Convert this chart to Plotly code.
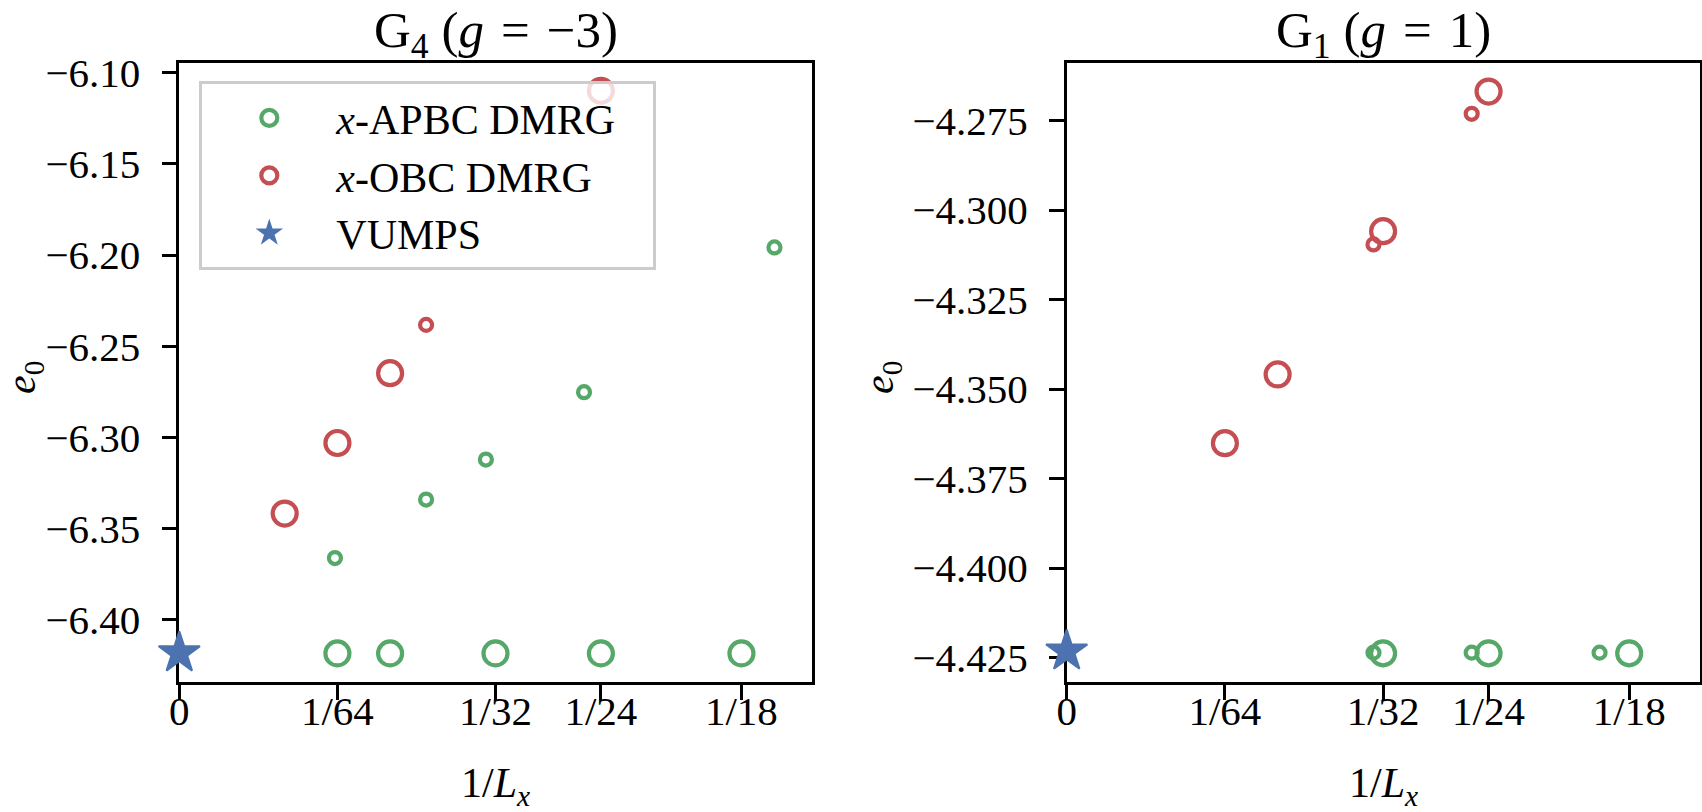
import plotly.graph_objects as go

# ---------------- data ----------------
X_TICKS = [0, 1/64, 1/32, 1/24, 1/18]
X_TICK_LABELS = ["0", "1/64", "1/32", "1/24", "1/18"]

# G4 (g = -3)
G4_APBC_x = [0.015625, 0.020833, 0.03125, 0.041667, 0.055556]
G4_APBC_e = [-6.4185, -6.4185, -6.4185, -6.4185, -6.4185]
G4_APBC_small_x = [0.01538, 0.02439, 0.03030, 0.04000, 0.05882]
G4_APBC_small_e = [-6.3662, -6.3341, -6.3122, -6.2752, -6.1958]
G4_OBC_x = [0.010417, 0.015625, 0.020833, 0.041667]
G4_OBC_e = [-6.3418, -6.3031, -6.2648, -6.1099]
G4_OBC_small_x = [0.02439]
G4_OBC_small_e = [-6.2383]
G4_VUMPS_x = [0.0]
G4_VUMPS_e = [-6.4183]
G4_Y_TICKS = [-6.40, -6.35, -6.30, -6.25, -6.20, -6.15, -6.10]
G4_Y_TICK_LABELS = ["\u22126.40", "\u22126.35", "\u22126.30", "\u22126.25", "\u22126.20", "\u22126.15", "\u22126.10"]

# G1 (g = 1)
G1_APBC_x = [0.03125, 0.041667, 0.055556]
G1_APBC_e = [-4.4238, -4.4238, -4.4238]
G1_APBC_small_x = [0.03030, 0.04000, 0.05263]
G1_APBC_small_e = [-4.4236, -4.4236, -4.4236]
G1_OBC_x = [0.015625, 0.020833, 0.03125, 0.041667]
G1_OBC_e = [-4.3651, -4.3459, -4.3059, -4.2669]
G1_OBC_small_x = [0.03030, 0.04000]
G1_OBC_small_e = [-4.3096, -4.2731]
G1_VUMPS_x = [0.0]
G1_VUMPS_e = [-4.4232]
G1_Y_TICKS = [-4.425, -4.400, -4.375, -4.350, -4.325, -4.300, -4.275]
G1_Y_TICK_LABELS = ["\u22124.425", "\u22124.400", "\u22124.375", "\u22124.350", "\u22124.325", "\u22124.300", "\u22124.275"]

# ---------------- style ----------------
W, H = 1702, 812
GREEN = "#55a868"
RED = "#c44e52"
BLUE = "#4c72b0"
FONT = "Liberation Serif"
FS = 42
BIG, SMALL, RING = 24, 12, 4.2

L_X0, L_X1 = 179.3, 811.7
R_X0, R_X1 = 1066.7, 1699.5
Y_TOP, Y_BOT = 63.3, 682.0

fig = go.Figure()


def ring(x, y, color, size, xa, ya, name, show, group):
    fig.add_trace(go.Scatter(
        x=x, y=y, mode="markers", name=name, showlegend=show, legendgroup=group,
        xaxis=xa, yaxis=ya,
        marker=dict(symbol="circle-open", size=size, color=color, line=dict(width=RING, color=color)),
    ))


def star(x, y, xa, ya, show):
    fig.add_trace(go.Scatter(
        x=x, y=y, mode="markers", name="VUMPS", showlegend=show, legendgroup="vumps",
        xaxis=xa, yaxis=ya, cliponaxis=False,
        marker=dict(symbol="star", size=31, color=BLUE, line=dict(width=2, color=BLUE)),
    ))


APBC_NAME = "<i>x</i>-APBC DMRG\u00a0\u00a0\u00a0"
OBC_NAME = "<i>x</i>-OBC DMRG"

# left panel
ring(G4_APBC_x, G4_APBC_e, GREEN, BIG, "x", "y", APBC_NAME, True, "apbc")
ring(G4_OBC_x, G4_OBC_e, RED, BIG, "x", "y", OBC_NAME, True, "obc")
ring(G4_APBC_small_x, G4_APBC_small_e, GREEN, SMALL, "x", "y", APBC_NAME, False, "apbc")
ring(G4_OBC_small_x, G4_OBC_small_e, RED, SMALL, "x", "y", OBC_NAME, False, "obc")
star(G4_VUMPS_x, G4_VUMPS_e, "x", "y", True)

# right panel
ring(G1_APBC_x, G1_APBC_e, GREEN, BIG, "x2", "y2", APBC_NAME, False, "apbc")
ring(G1_OBC_x, G1_OBC_e, RED, BIG, "x2", "y2", OBC_NAME, False, "obc")
ring(G1_APBC_small_x, G1_APBC_small_e, GREEN, SMALL, "x2", "y2", APBC_NAME, False, "apbc")
ring(G1_OBC_small_x, G1_OBC_small_e, RED, SMALL, "x2", "y2", OBC_NAME, False, "obc")
star(G1_VUMPS_x, G1_VUMPS_e, "x2", "y2", False)

axis_common = dict(
    showline=True, mirror=True, linecolor="black", linewidth=3.3,
    ticks="outside", ticklen=14.6, tickwidth=3.3, tickcolor="black",
    showgrid=False, zeroline=False, layer="below traces",
    tickfont=dict(family=FONT, size=41, color="black"),
    automargin=False,
)
xaxis_common = dict(axis_common, ticklabelstandoff=-24, range=[0, 0.0625],
                    tickmode="array", tickvals=X_TICKS, ticktext=X_TICK_LABELS)
yaxis_common = dict(axis_common, ticklabelstandoff=13, tickmode="array")

ydom = [1 - Y_BOT / H, 1 - Y_TOP / H]
fig.update_layout(
    width=W, height=H,
    margin=dict(l=0, r=0, t=0, b=0),
    paper_bgcolor="white", plot_bgcolor="white",
    font=dict(family=FONT, size=FS, color="black"),
    xaxis=dict(domain=[L_X0 / W, L_X1 / W], anchor="y", **xaxis_common),
    yaxis=dict(domain=ydom, range=[-6.4342, -6.0948], anchor="x",
               tickvals=G4_Y_TICKS, ticktext=G4_Y_TICK_LABELS, **yaxis_common),
    xaxis2=dict(domain=[R_X0 / W, R_X1 / W], anchor="y2", **xaxis_common),
    yaxis2=dict(domain=ydom, range=[-4.4318, -4.2590], anchor="x2",
                tickvals=G1_Y_TICKS, ticktext=G1_Y_TICK_LABELS, **yaxis_common),
    legend=dict(
        x=199.3 / W, y=1 - 81 / H, xanchor="left", yanchor="top",
        bgcolor="rgba(255,255,255,0.8)", bordercolor="#cccccc", borderwidth=3,
        font=dict(family=FONT, size=FS, color="black"),
        itemwidth=124, tracegroupgap=0,
    ),
)

SP = "\u2004"
ann = []
for cx, title in [((L_X0 + L_X1) / 2, "G<sub>4</sub> (<i>g</i>" + SP + "=" + SP + "\u22123)"),
                  ((R_X0 + R_X1) / 2, "G<sub>1</sub> (<i>g</i>" + SP + "=" + SP + "1)")]:
    ann.append(dict(text=title, x=cx / W, y=1 - 34 / H, xref="paper", yref="paper",
                    xanchor="center", yanchor="middle", showarrow=False,
                    font=dict(family=FONT, size=51, color="black")))
    ann.append(dict(text="1/<i>L</i><sub><i>x</i></sub>", x=cx / W, y=1 - 786 / H,
                    xref="paper", yref="paper", xanchor="center", yanchor="middle",
                    showarrow=False, font=dict(family=FONT, size=FS, color="black")))
for lx in [24, 882]:
    ann.append(dict(text="<i>e</i><sub>0</sub>", x=lx / W, y=1 - 378 / H, xref="paper", yref="paper",
                    xanchor="center", yanchor="middle", textangle=-90, showarrow=False,
                    font=dict(family=FONT, size=FS, color="black")))
fig.update_layout(annotations=ann)

fig.write_html("out.html")
